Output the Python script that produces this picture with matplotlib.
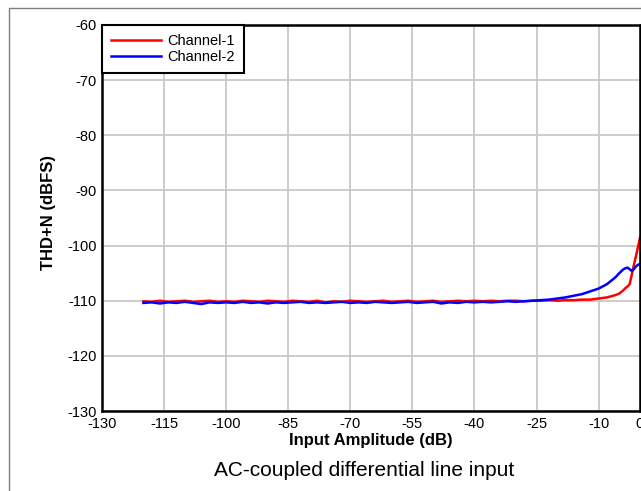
import matplotlib
matplotlib.use('Agg')
import matplotlib.pyplot as plt
from matplotlib.patches import Rectangle

plt.rcParams['font.family'] = ['Liberation Sans', 'DejaVu Sans']
plt.rcParams['axes.unicode_minus'] = False

# input amplitude (dB)
amp = [-120, -118, -116, -114, -112, -110, -108, -106, -104, -102,
       -100, -98, -96, -94, -92, -90, -88, -86, -84, -82,
       -80, -78, -76, -74, -72, -70, -68, -66, -64, -62,
       -60, -58, -56, -54, -52, -50, -48, -46, -44, -42,
       -40, -38, -36, -34, -32, -30, -28, -26, -24, -22,
       -20, -18, -16, -14, -12, -10, -8, -6, -5, -4,
       -3.5, -3, -2.5, -2, -1.5, -1, -0.5, 0]

ch1 = [-110.1, -110.2, -110.0, -110.2, -110.1, -110.0, -110.2, -110.1, -110.0, -110.2,
       -110.1, -110.2, -110.0, -110.1, -110.2, -110.0, -110.1, -110.2, -110.0, -110.1,
       -110.2, -110.0, -110.3, -110.1, -110.2, -110.0, -110.1, -110.2, -110.1, -110.0,
       -110.2, -110.1, -110.0, -110.2, -110.1, -110.0, -110.2, -110.1, -110.0, -110.1,
       -110.0, -110.1, -110.0, -110.1, -110.0, -110.0, -110.1, -110.0, -110.0, -109.9,
       -110.0, -109.9, -109.9, -109.8, -109.8, -109.6, -109.4, -109.0, -108.7, -108.1,
       -107.7, -107.4, -107.0, -105.3, -103.6, -102.0, -100.3, -98.6]

ch2 = [-110.4, -110.3, -110.5, -110.3, -110.4, -110.2, -110.4, -110.6, -110.3, -110.4,
       -110.3, -110.4, -110.2, -110.4, -110.3, -110.5, -110.3, -110.4, -110.3, -110.2,
       -110.4, -110.3, -110.4, -110.3, -110.2, -110.4, -110.3, -110.4, -110.2, -110.3,
       -110.4, -110.3, -110.2, -110.4, -110.3, -110.2, -110.5, -110.3, -110.4, -110.2,
       -110.3, -110.2, -110.3, -110.2, -110.1, -110.2, -110.1, -110.0, -109.9, -109.8,
       -109.6, -109.4, -109.1, -108.8, -108.3, -107.8, -107.0, -105.8, -105.0, -104.3,
       -104.1, -104.0, -104.3, -104.6, -104.3, -103.8, -103.5, -103.3]

xticks = [-130, -115, -100, -85, -70, -55, -40, -25, -10, 0]
yticks = [-130, -120, -110, -100, -90, -80, -70, -60]

fig = plt.figure(figsize=(6.41, 4.91), dpi=100)
fig.patches.append(Rectangle((9 / 641, -0.1), 1.2, 1.1 - 8 / 491,
                             transform=fig.transFigure, fill=False,
                             edgecolor='#7f7f7f', linewidth=1.0))
ax = fig.add_axes([102 / 641, 1 - 411 / 491, 538 / 641, 386 / 491])

ax.plot(amp, ch1, color='#ff0000', linewidth=1.8, label='Channel-1')
ax.plot(amp, ch2, color='#0000ff', linewidth=1.8, label='Channel-2')

ax.set_xlim(-130, 0)
ax.set_ylim(-130, -60)
ax.set_xticks(xticks)
ax.set_yticks(yticks)
ax.grid(True, color='#c8c8c8', linewidth=1.3)
ax.set_axisbelow(True)
ax.tick_params(length=0, labelsize=10.5, pad=4)
for s in ax.spines.values():
    s.set_linewidth(1.8)
    s.set_color('black')

ax.set_xlabel('Input Amplitude (dB)', fontsize=12, fontweight='bold', labelpad=2)
ax.set_ylabel('THD+N (dBFS)', fontsize=12, fontweight='bold', va='center')
ax.yaxis.set_label_coords(-0.1, 0.515)

leg = ax.legend(loc='upper left', bbox_to_anchor=(0, 1), borderaxespad=0,
                fancybox=False, edgecolor='black', fontsize=10.5,
                handlelength=3.4, handletextpad=0.45, labelspacing=0.12,
                borderpad=0.62, framealpha=1)
leg.get_frame().set_linewidth(1.5)

fig.text(364 / 641, 1 - 470 / 491, 'AC-coupled differential line input',
         ha='center', va='center', fontsize=15)

fig.savefig('out.png', dpi=100)
